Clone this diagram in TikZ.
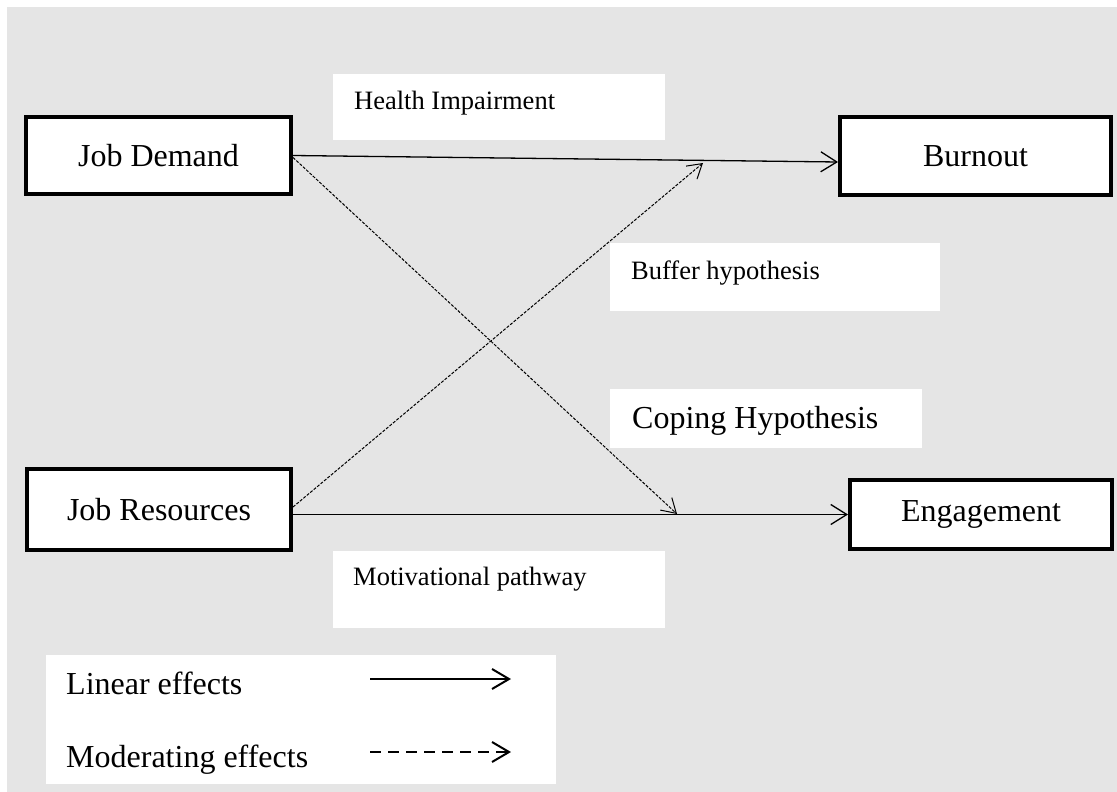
\documentclass[tikz,border=0pt]{standalone}
\usepackage{fontspec}
\setmainfont{Liberation Serif}
\usetikzlibrary{arrows.meta}
\definecolor{panelgray}{RGB}{229,229,229}
\tikzset{
  construct/.style={draw=black, fill=white, line width=4pt, inner sep=0pt,
    font=\fontsize{32}{38}\selectfont},
  labelbox/.style={fill=white, draw=none, anchor=north west, inner sep=0pt},
  bigtext/.style={font=\fontsize{32}{38}\selectfont, anchor=base west, inner sep=0pt},
  smalltext/.style={font=\fontsize{26.5}{32}\selectfont, anchor=base west, inner sep=0pt},
  linear/.style={line width=1.3pt, -{Straight Barb[length=16pt,width=20pt]}},
  moderating/.style={line width=1pt, dash pattern=on 3pt off 1.5pt,
    -{Straight Barb[length=14pt,width=17pt]}},
  legendsolid/.style={line width=2pt, -{Straight Barb[length=17pt,width=20pt]}},
  legenddashed/.style={line width=2pt, dash pattern=on 11pt off 7pt,
    -{Straight Barb[length=17pt,width=20pt]}}
}
\begin{document}
\begin{tikzpicture}[x=1pt,y=-1pt]
  \useasboundingbox (0,0) rectangle (1117,792);
  \fill[white] (0,0) rectangle (1117,792);
  \fill[panelgray] (7,7) rectangle (1117,792);

  % path labels on white panels
  \node[labelbox, minimum width=332pt, minimum height=66pt] (hibox) at (333,74) {};
  \node[smalltext] (hitext) at (354,110) {Health Impairment};
  \node[labelbox, minimum width=330pt, minimum height=68pt] (bhbox) at (610,243) {};
  \node[smalltext] (bhtext) at (631,279) {Buffer hypothesis};
  \node[labelbox, minimum width=312pt, minimum height=59pt] (chbox) at (610,389) {};
  \node[bigtext] (chtext) at (632,428) {Coping Hypothesis};
  \node[labelbox, minimum width=332pt, minimum height=77pt] (mpbox) at (333,551) {};
  \node[smalltext] (mptext) at (353,585) {Motivational pathway};

  % constructs
  \node[construct, minimum width=265pt, minimum height=77pt] (jd) at (158.5,155.5) {Job Demand};
  \node[construct, minimum width=264pt, minimum height=81pt] (jr) at (159,509.5) {Job Resources};
  \node[construct, minimum width=271pt, minimum height=78pt] (bo) at (975.5,156) {Burnout};
  \node[construct, minimum width=262pt, minimum height=69pt] (en) at (981,514.5) {Engagement};

  % points where the moderating paths meet the main paths
  \coordinate (buffer) at (703,163);
  \coordinate (coping) at (677,514);

  % main effects
  \draw[linear] (jd.east) -- ([yshift=-6pt]bo.west);
  \draw[linear] ([yshift=-5pt]jr.east) -- (en.west);

  % moderating effects
  \draw[moderating] ([yshift=-2pt]jd.east) -- (coping);
  \draw[moderating] ([yshift=2.5pt]jr.east) -- (buffer);

  % legend
  \node[labelbox, minimum width=510pt, minimum height=129pt] (legend) at (46,655) {};
  \node[bigtext] (lintext) at (66,694) {Linear effects};
  \node[bigtext] (modtext) at (66,767) {Moderating effects};
  \coordinate (linA) at (370,679);
  \coordinate (linB) at (511,679);
  \coordinate (modA) at (370,752);
  \coordinate (modB) at (511,752);
  \draw[legendsolid] (linA) -- (linB);
  \draw[legenddashed] (modA) -- (modB);
\end{tikzpicture}
\end{document}
